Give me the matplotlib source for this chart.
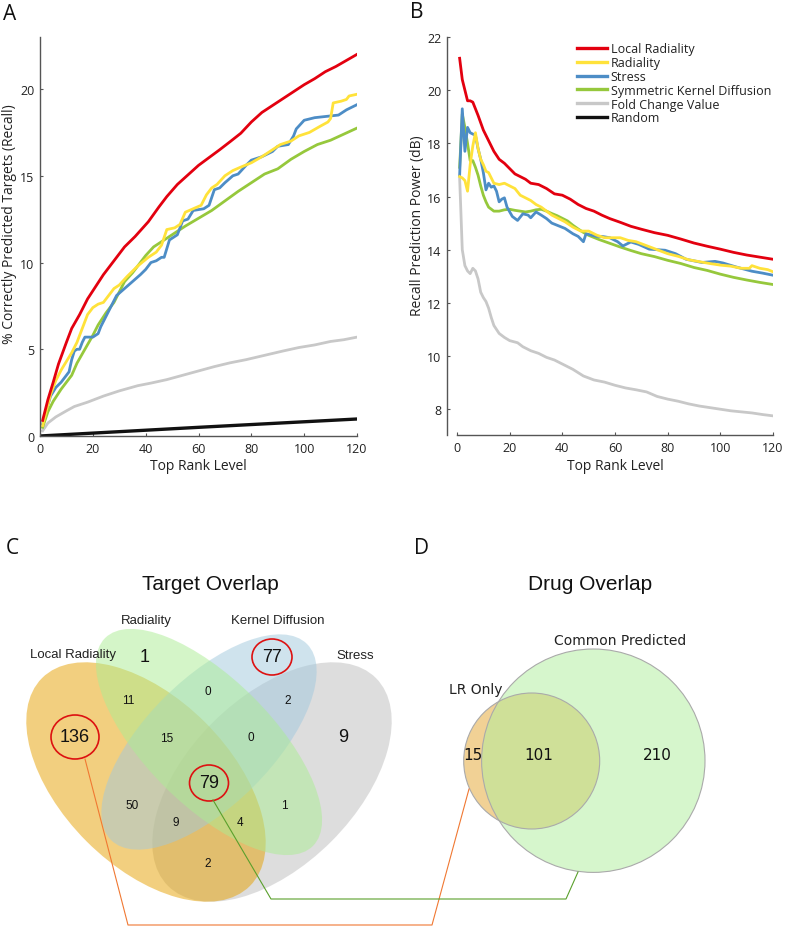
import matplotlib
matplotlib.use('Agg')
import matplotlib.pyplot as plt
from matplotlib.patches import Ellipse, Circle
from matplotlib.lines import Line2D

# ---------------- data ----------------
A_red_x = [1, 3, 5, 7, 10, 12, 15, 18, 21, 24, 28, 32, 36, 41, 45, 48, 52, 56, 60, 64, 68, 72, 76, 80, 84, 88, 92, 96, 100, 104, 108, 112, 116, 120]
A_red_y = [0.9, 2.1, 3.1, 4.15, 5.4, 6.2, 7.0, 7.9, 8.6, 9.3, 10.1, 10.9, 11.5, 12.35, 13.2, 13.8, 14.5, 15.05, 15.6, 16.05, 16.5, 16.97, 17.45, 18.1, 18.65, 19.05, 19.45, 19.85, 20.25, 20.6, 21.0, 21.3, 21.65, 22.0]

A_yel_x = [1, 2, 4, 6, 8, 10, 12, 14, 16, 18, 20, 22, 24, 26, 28, 30, 33, 37, 41, 44, 46, 48, 51, 53, 55, 58, 61, 63, 65, 67, 70, 73, 76, 80, 84, 88, 91, 95, 98, 102, 106, 109, 110, 111, 114, 116, 117, 120]
A_yel_y = [0.6, 1.2, 2.4, 3.2, 3.8, 4.3, 4.8, 5.4, 6.2, 7.0, 7.4, 7.6, 7.7, 8.1, 8.5, 8.7, 9.2, 9.8, 10.3, 10.6, 11.0, 11.9, 12.0, 12.2, 12.9, 13.1, 13.3, 13.9, 14.3, 14.5, 15.0, 15.3, 15.5, 15.75, 16.1, 16.5, 16.8, 17.0, 17.3, 17.5, 17.85, 18.1, 18.3, 19.2, 19.3, 19.4, 19.6, 19.7]

A_blu_x = [1, 2, 4, 6, 8, 10, 11, 12, 13, 14, 15, 16, 17, 20, 22, 23, 25, 27, 29, 32, 35, 38, 40, 42, 44, 46, 47, 49, 52, 54, 56, 58, 62, 64, 66, 68, 70, 73, 75, 78, 80, 84, 88, 90, 94, 96, 97, 100, 104, 110, 113, 116, 120]
A_blu_y = [0.7, 1.3, 2.3, 2.8, 3.1, 3.5, 3.7, 4.4, 4.9, 5.0, 5.0, 5.4, 5.7, 5.7, 5.9, 6.3, 6.9, 7.5, 8.1, 8.5, 8.9, 9.3, 9.6, 10.0, 10.1, 10.3, 10.3, 11.3, 11.6, 12.4, 12.5, 13.0, 13.1, 13.3, 14.2, 14.3, 14.6, 15.0, 15.1, 15.6, 15.9, 16.1, 16.4, 16.7, 16.8, 17.3, 17.7, 18.2, 18.35, 18.45, 18.5, 18.8, 19.1]

A_grn_x = [1, 3, 5, 8, 10, 12, 14, 17, 20, 22, 25, 28, 30, 32, 35, 37, 40, 43, 47, 50, 55, 60, 65, 70, 75, 80, 85, 90, 95, 100, 105, 110, 115, 120]
A_grn_y = [0.5, 1.4, 2.0, 2.7, 3.1, 3.5, 4.2, 5.0, 5.8, 6.4, 7.1, 7.7, 8.3, 8.9, 9.4, 9.8, 10.4, 10.9, 11.3, 11.6, 12.1, 12.55, 13.0, 13.55, 14.1, 14.6, 15.1, 15.4, 15.95, 16.4, 16.8, 17.05, 17.4, 17.75]

A_gry_x = [1, 3, 6, 10, 13, 18, 24, 30, 37, 42, 48, 54, 60, 66, 72, 78, 85, 92, 98, 104, 110, 115, 120]
A_gry_y = [0.3, 0.75, 1.1, 1.45, 1.7, 1.95, 2.3, 2.6, 2.9, 3.05, 3.25, 3.5, 3.75, 4.0, 4.22, 4.4, 4.65, 4.9, 5.1, 5.25, 5.45, 5.55, 5.7]

A_blk_x = [0, 60, 120]
A_blk_y = [0.0, 0.5, 0.98]

B_red_x = [1, 2, 3, 4, 5, 6, 7, 8, 10, 12, 14, 16, 18, 20, 22, 24, 26, 28, 31, 34, 37, 40, 43, 46, 49, 52, 55, 58, 62, 66, 70, 75, 80, 85, 90, 95, 100, 105, 110, 115, 120]
B_red_y = [21.2, 20.4, 20.0, 19.6, 19.6, 19.55, 19.3, 19.05, 18.5, 18.1, 17.7, 17.4, 17.25, 17.05, 16.85, 16.75, 16.65, 16.5, 16.45, 16.3, 16.1, 16.05, 15.9, 15.7, 15.55, 15.45, 15.3, 15.17, 15.03, 14.88, 14.77, 14.64, 14.54, 14.4, 14.25, 14.13, 14.02, 13.9, 13.8, 13.72, 13.64]

B_yel_x = [1, 2, 3, 4, 5, 6, 7, 8, 9, 10, 11, 12, 14, 16, 18, 20, 22, 24, 26, 28, 30, 32, 34, 36, 38, 41, 44, 47, 50, 53, 56, 59, 62, 65, 68, 72, 76, 80, 84, 88, 92, 96, 100, 104, 108, 111, 112, 115, 118, 120]
B_yel_y = [16.75, 16.7, 16.6, 16.2, 17.2, 17.9, 18.4, 17.8, 17.4, 17.2, 16.95, 16.9, 16.5, 16.45, 16.5, 16.4, 16.3, 16.05, 15.95, 15.85, 15.7, 15.6, 15.45, 15.3, 15.2, 15.05, 14.85, 14.7, 14.7, 14.55, 14.45, 14.45, 14.45, 14.35, 14.3, 14.15, 14.0, 13.85, 13.75, 13.62, 13.55, 13.48, 13.42, 13.38, 13.3, 13.3, 13.4, 13.3, 13.25, 13.17]

B_blu_x = [1, 2, 3, 4, 5, 6, 7, 8, 9, 10, 11, 12, 13, 14, 15, 16, 17, 18, 19, 21, 23, 25, 27, 28, 30, 32, 34, 36, 38, 41, 44, 46, 48, 49, 51, 53, 55, 58, 61, 63, 66, 69, 73, 79, 83, 87, 93, 98, 101, 106, 112, 116, 120]
B_blu_y = [16.8, 19.3, 17.7, 18.6, 18.4, 18.35, 18.3, 17.8, 17.4, 16.9, 16.25, 16.5, 16.35, 16.4, 16.2, 15.8, 15.9, 15.95, 15.6, 15.25, 15.1, 15.35, 15.3, 15.2, 15.42, 15.3, 15.17, 15.0, 14.92, 14.8, 14.6, 14.5, 14.3, 14.6, 14.55, 14.5, 14.5, 14.45, 14.3, 14.14, 14.29, 14.2, 14.02, 13.98, 13.85, 13.64, 13.52, 13.56, 13.5, 13.35, 13.19, 13.12, 13.04]

B_grn_x = [1, 2, 3, 4, 5, 6, 7, 8, 9, 10, 11, 12, 14, 16, 18, 20, 22, 24, 26, 28, 30, 32, 34, 36, 38, 40, 42, 44, 46, 48, 50, 54, 58, 62, 66, 70, 75, 80, 85, 90, 95, 100, 105, 110, 115, 120]
B_grn_y = [17.1, 19.1, 18.6, 18.0, 17.35, 17.35, 17.1, 16.8, 16.4, 16.05, 15.8, 15.6, 15.45, 15.45, 15.5, 15.52, 15.48, 15.45, 15.42, 15.45, 15.5, 15.52, 15.45, 15.36, 15.28, 15.18, 15.08, 14.92, 14.78, 14.65, 14.54, 14.38, 14.24, 14.1, 13.97, 13.85, 13.74, 13.6, 13.48, 13.33, 13.22, 13.08, 12.96, 12.86, 12.77, 12.69]

B_gry_x = [1, 2, 3, 4, 5, 6, 7, 8, 9, 10, 11, 12, 13, 14, 16, 18, 20, 23, 25, 28, 31, 34, 37, 40, 44, 48, 52, 56, 60, 64, 68, 72, 76, 80, 84, 88, 92, 96, 100, 104, 108, 112, 116, 120]
B_gry_y = [16.7, 14.0, 13.4, 13.2, 13.1, 13.3, 13.2, 12.9, 12.4, 12.2, 12.05, 11.8, 11.45, 11.15, 10.85, 10.7, 10.58, 10.5, 10.35, 10.2, 10.1, 9.95, 9.85, 9.7, 9.5, 9.25, 9.1, 9.02, 8.9, 8.8, 8.73, 8.65, 8.48, 8.38, 8.3, 8.2, 8.12, 8.06, 8.0, 7.94, 7.9, 7.86, 7.8, 7.75]

series_names = ["Local Radiality", "Radiality", "Stress", "Symmetric Kernel Diffusion", "Fold Change Value", "Random"]
series_colors = ["#E3000F", "#FFE23A", "#4D8DC6", "#96C83C", "#C8C8C8", "#111111"]

xticks = [0, 20, 40, 60, 80, 100, 120]
A_yticks = [0, 5, 10, 15, 20]
B_yticks = [8, 10, 12, 14, 16, 18, 20, 22]

# Venn (target overlap)
venn_set_labels = ["Local Radiality", "Radiality", "Kernel Diffusion", "Stress"]
venn_counts = {"LR": 136, "R": 1, "KD": 77, "S": 9,
               "LR&R": 11, "R&KD": 0, "KD&S": 2, "LR&R&KD": 15, "R&KD&S": 0,
               "all": 79, "LR&KD": 50, "R&S": 1, "LR&KD&S": 9, "LR&R&S": 4, "LR&S": 2}
circled = ["LR", "KD", "all"]

# Drug overlap
drug_labels = ["LR Only", "Common Predicted"]
drug_only_lr = 15
drug_common = 101
drug_only_cp = 210

# ---------------- figure ----------------
W, H = 787, 929
plt.rcParams['font.family'] = ['Open Sans', 'DejaVu Sans']
fig = plt.figure(figsize=(W / 100, H / 100), dpi=100)
TXT = '#222222'
AXC = '#555555'

def style_axes(ax):
    for s in ['top', 'right']:
        ax.spines[s].set_visible(False)
    for s in ['left', 'bottom']:
        ax.spines[s].set_color(AXC)
        ax.spines[s].set_linewidth(1.0)
    ax.tick_params(direction='in', length=2.5, width=0.8, color=AXC,
                   labelsize=9, labelcolor=TXT, pad=4)

lw = 2.0
# Panel A
axA = fig.add_axes([40 / W, 1 - 437 / H, 317 / W, 399 / H])
style_axes(axA)
A_data = [(A_red_x, A_red_y), (A_yel_x, A_yel_y), (A_blu_x, A_blu_y),
          (A_grn_x, A_grn_y), (A_gry_x, A_gry_y), (A_blk_x, A_blk_y)]
for i in [4, 5, 3, 2, 1, 0]:
    x, y = A_data[i]
    axA.plot(x, y, color=series_colors[i], lw=(2.4 if i == 5 else lw))
axA.set_xlim(0, 120)
axA.set_ylim(0, 23.0)
axA.set_xticks(xticks)
axA.set_yticks(A_yticks)

# Panel B
axB = fig.add_axes([447 / W, 1 - 436 / H, 326 / W, 398 / H])
style_axes(axB)
B_data = [(B_red_x, B_red_y), (B_yel_x, B_yel_y), (B_blu_x, B_blu_y),
          (B_grn_x, B_grn_y), (B_gry_x, B_gry_y)]
for i in [4, 3, 2, 1, 0]:
    x, y = B_data[i]
    axB.plot(x, y, color=series_colors[i], lw=lw)
axB.set_xlim(-3.8, 120)
axB.set_ylim(7.03, 22)
axB.spines['bottom'].set_bounds(0, 120)
axB.set_xticks(xticks)
axB.set_yticks(B_yticks)
handles = [Line2D([], [], color=c, lw=2.4) for c in series_colors]
leg = axB.legend(handles, series_names, loc='upper left', frameon=False,
                 bbox_to_anchor=(577 / W, 1 - 43.5 / H), bbox_transform=fig.transFigure,
                 fontsize=9, handlelength=2.4, handletextpad=0.3, labelspacing=0.06,
                 borderpad=0, borderaxespad=0)
for t in leg.get_texts():
    t.set_color(TXT)

# axis labels
fig.text(198 / W, 1 - 467 / H, "Top Rank Level", ha='center', va='center', fontsize=10, color=TXT)
fig.text(615 / W, 1 - 467 / H, "Top Rank Level", ha='center', va='center', fontsize=10, color=TXT)
fig.text(10 / W, 1 - 224 / H, "% Correctly Predicted Targets (Recall)", ha='center', va='center',
         rotation=90, fontsize=10, color=TXT)
fig.text(417 / W, 1 - 226 / H, "Recall Prediction Power (dB)", ha='center', va='center',
         rotation=90, fontsize=10, color=TXT)

# panel letters
for letter, (px, py) in zip("ABCD", [(10, 14), (417, 13), (12, 548), (422, 548)]):
    fig.text(px / W, 1 - py / H, letter, ha='center', va='center', fontsize=15, color='#111111')

# ---------------- overlay for venn ----------------
ov = fig.add_axes([0, 0, 1, 1])
ov.set_xlim(0, W)
ov.set_ylim(H, 0)
ov.axis('off')

SF = 'Liberation Sans'
s = 420.0
ell = [  # draw order: stress, LR, KD, R
    ((272, 783), 2 * 0.35 * s, 2 * 0.20 * s, -45, '#BDBDBD'),
    ((146, 783), 2 * 0.35 * s, 2 * 0.20 * s, 45, '#E6A100'),
    ((209, 743), 2 * 0.33 * s, 2 * 0.15 * s, -45, '#A1C9DD'),
    ((209, 743), 2 * 0.35 * s, 2 * 0.15 * s, 45, '#ABED93'),
]
for (c, w, h, a, col) in ell:
    ov.add_patch(Ellipse(c, w, h, angle=a, facecolor=col, alpha=0.5, edgecolor='none'))

ov.text(210, 585, "Target Overlap", ha='center', va='center', fontsize=15, family=SF, color='#111111')
for lab, (px, py) in zip(venn_set_labels, [(73, 655), (146, 621), (278, 621), (355, 656)]):
    ov.text(px, py, lab, ha='center', va='center', fontsize=9.5, family=SF, color=TXT)

pos = {"LR": (75, 738), "R": (145, 658), "KD": (272, 658), "S": (343, 738),
       "LR&R": (128, 701), "R&KD": (208, 692), "KD&S": (288, 701), "LR&R&KD": (167, 739),
       "R&KD&S": (251, 738), "all": (209, 784), "LR&KD": (132, 806), "R&S": (284, 806),
       "LR&KD&S": (176, 823), "LR&R&S": (240, 823), "LR&S": (208, 864)}
big = ["LR", "R", "KD", "S", "all"]
for k, v in venn_counts.items():
    ov.text(pos[k][0], pos[k][1], str(v), ha='center', va='center',
            fontsize=13 if k in big else 8.5, family=SF, color='#111111')
ring = {"LR": (48, 44), "KD": (40, 36), "all": (39, 36)}
for k in circled:
    ov.add_patch(Ellipse(pos[k], ring[k][0], ring[k][1], facecolor='none',
                         edgecolor='#DD1111', lw=1.2))

# ---------------- drug overlap ----------------
ov.text(590, 585, "Drug Overlap", ha='center', va='center', fontsize=15, family=SF, color='#111111')
lr_c, lr_r = (531.7, 762), 68
cp_c, cp_r = (593.3, 761.7), 111.7
ov.add_patch(Circle(lr_c, lr_r, facecolor='#E5A52D', alpha=0.5, edgecolor='none'))
ov.add_patch(Circle(cp_c, cp_r, facecolor='#AFEF9B', alpha=0.5, edgecolor='none'))
ov.add_patch(Circle(lr_c, lr_r, facecolor='none', edgecolor='#AAAAAA', lw=0.8))
ov.add_patch(Circle(cp_c, cp_r, facecolor='none', edgecolor='#AAAAAA', lw=0.8))
DF = 'DejaVu Sans'
ov.text(476, 690, drug_labels[0], ha='center', va='center', fontsize=10, family=DF, color=TXT)
ov.text(620, 641, drug_labels[1], ha='center', va='center', fontsize=10, family=DF, color=TXT)
ov.text(473, 756, str(drug_only_lr), ha='center', va='center', fontsize=11, family=DF, color='#111111')
ov.text(539, 756, str(drug_common), ha='center', va='center', fontsize=11, family=DF, color='#111111')
ov.text(657, 756, str(drug_only_cp), ha='center', va='center', fontsize=11, family=DF, color='#111111')

# connectors
ov.plot([85, 128, 432, 469], [760, 926, 926, 790], color='#F07832', lw=0.8)
ov.plot([213, 271, 566, 578], [801, 900, 900, 873], color='#5AA02C', lw=0.8)

fig.savefig('out.png', dpi=100)
